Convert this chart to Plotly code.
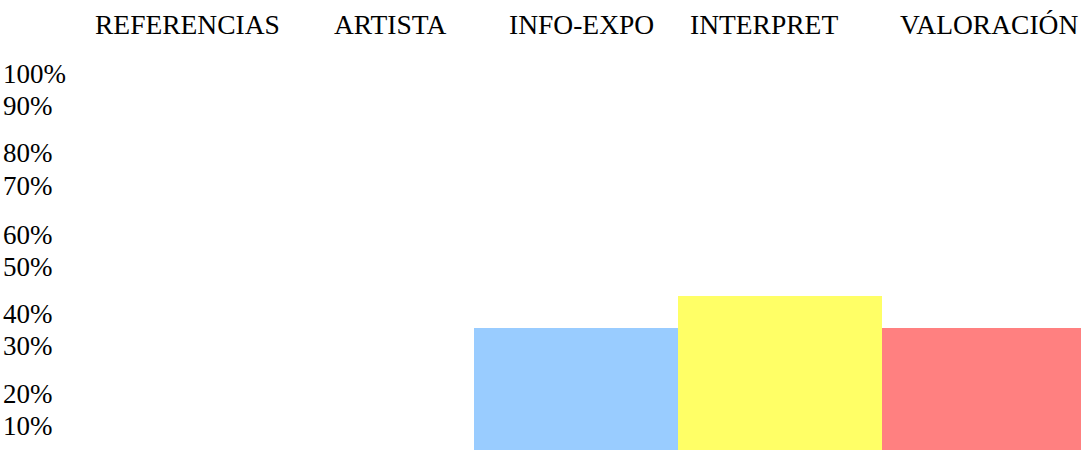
import plotly.graph_objects as go

# ---- data ----
categories = ["REFERENCIAS", "ARTISTA", "INFO-EXPO", "INTERPRET", "VALORACIÓN"]
values = [0, 0, 32.4, 40.8, 32.4]
bar_colors = ["#99CCFF", "#99CCFF", "#99CCFF", "#FFFF66", "#FF8080"]
tick_labels = ["10%", "20%", "30%", "40%", "50%", "60%", "70%", "80%", "90%", "100%"]

# ---- layout helpers (positions / styles) ----
tick_positions = [6.37, 14.85, 27.6, 36.3, 48.8, 57.3, 70.3, 78.8, 91.5, 100]
header_shift = [19, 18, 5, -16, 5]
header_y = 113
FONT = "Liberation Serif, Times New Roman, serif"

fig = go.Figure()
fig.add_trace(go.Bar(
    x=categories, y=values,
    marker=dict(color=bar_colors, line=dict(width=0)),
    hoverinfo="skip",
))

for cat, dx in zip(categories, header_shift):
    fig.add_annotation(
        x=cat, y=header_y, xref="x", yref="y",
        text=cat, showarrow=False, xshift=dx,
        xanchor="center", yanchor="middle",
        font=dict(family=FONT, size=27.5, color="#000000"),
    )

fig.update_layout(
    width=1081, height=450,
    margin=dict(l=0, r=0, t=0, b=0),
    paper_bgcolor="white", plot_bgcolor="white",
    bargap=0, showlegend=False,
    xaxis=dict(range=[-0.8235, 4.475], showticklabels=False, showgrid=False,
               zeroline=False, showline=False, ticks="", fixedrange=True),
    yaxis=dict(range=[0, 119.4], tickvals=tick_positions, ticktext=tick_labels,
               ticklabelposition="inside", ticks="", showgrid=False,
               zeroline=False, showline=False,
               tickfont=dict(family=FONT, size=27, color="#000000")),
)

fig.write_html("out.html", config={"displayModeBar": False},
               post_script="document.body.style.margin='0';document.body.style.overflow='hidden';")
